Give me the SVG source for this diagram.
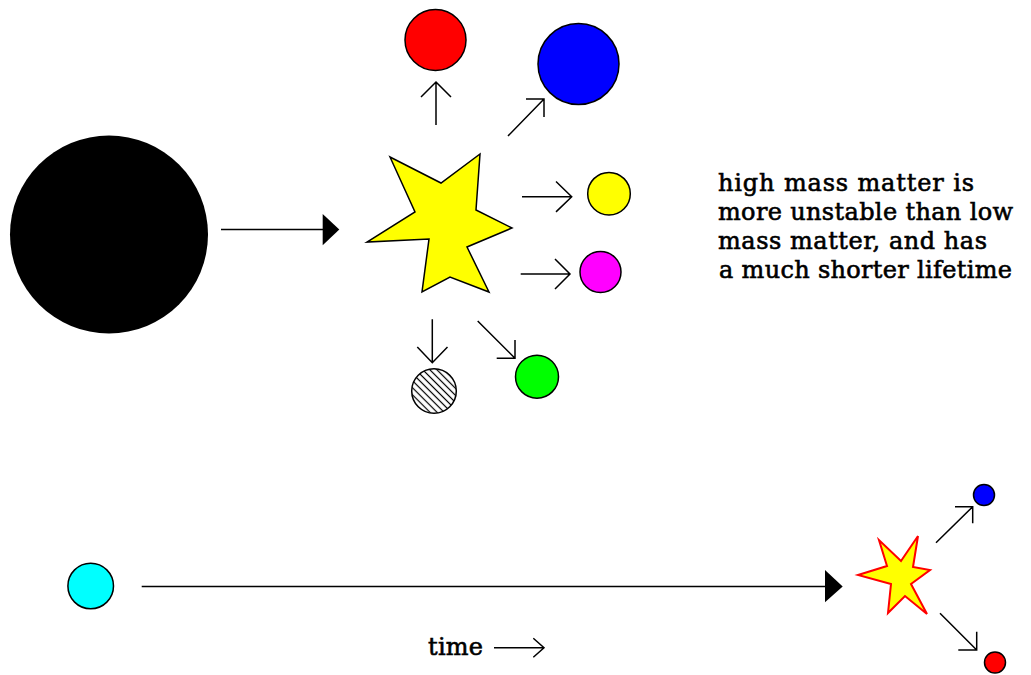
<svg xmlns="http://www.w3.org/2000/svg" width="1031" height="675" viewBox="0 0 1031 675">
<style>
.ball{stroke:#000;stroke-width:1.5}
.ln{stroke:#000;stroke-width:1.5;fill:none}
.head{fill:#000;stroke:none}
.txt{font-family:"DejaVu Serif","Liberation Serif",serif;font-size:24px;fill:#000;stroke:#000;stroke-width:0.6}
</style>
<defs>
<pattern id="hatch" patternUnits="userSpaceOnUse" width="5" height="5" patternTransform="rotate(45)">
<rect width="5" height="5" fill="#fff"/>
<line x1="0" y1="2.5" x2="5" y2="2.5" stroke="#000" stroke-width="1.2"/>
</pattern>
</defs>
<rect width="1031" height="675" fill="#fff"/>
<g id="black-mass"><circle cx="109" cy="234.5" r="99" fill="#000"/></g>
<g id="star-big"><polygon points="390,157 441,183 480,154 476,210 512,228 467,247 489,292 450,277 422,292 429,239 367,242 415,212" fill="#ffff00" stroke="#000" stroke-width="1.5" stroke-linejoin="miter"/></g>
<g id="red-big"><circle class="ball" cx="435.5" cy="40" r="30.5" fill="#ff0000"/></g>
<g id="blue-big"><circle class="ball" cx="578.5" cy="64" r="40.5" fill="#0000ff"/></g>
<g id="yellow-ball"><circle class="ball" cx="609" cy="193.7" r="21.3" fill="#ffff00"/></g>
<g id="magenta-ball"><circle class="ball" cx="600.5" cy="272" r="20.5" fill="#ff00ff"/></g>
<g id="hatched-ball"><circle class="ball" cx="434" cy="391" r="22.3" fill="url(#hatch)"/></g>
<g id="green-ball"><circle class="ball" cx="537" cy="376.7" r="21.5" fill="#00ff00"/></g>
<g id="cyan-ball"><circle class="ball" cx="90.7" cy="586" r="22.8" fill="#00ffff"/></g>
<g id="star-small"><polygon points="858,575 887,566 879,540 901,561 918,536 913,567 930,570 911,584 927,614 905,596 888,613 891,584" fill="#ffff00" stroke="#ff0000" stroke-width="2" stroke-linejoin="miter"/></g>
<g id="blue-small"><circle class="ball" cx="984" cy="495" r="10.5" fill="#0000ff"/></g>
<g id="red-small"><circle class="ball" cx="995" cy="662.5" r="10.5" fill="#ff0000"/></g>
<g id="text">
<text class="txt" x="718" y="191" textLength="256" lengthAdjust="spacing">high mass matter is</text>
<text class="txt" x="718" y="220" textLength="295" lengthAdjust="spacing">more unstable than low</text>
<text class="txt" x="718" y="249" textLength="269" lengthAdjust="spacing">mass matter, and has</text>
<text class="txt" x="719" y="278" textLength="293" lengthAdjust="spacing">a much shorter lifetime</text>
<text class="txt" x="428" y="655" textLength="55" lengthAdjust="spacing">time</text>
</g>
<g id="connectors">
<line class="ln" x1="221" y1="229.5" x2="324" y2="229.5"/>
<polygon class="head" points="322.7,214 339.3,229.5 322.7,245.3"/>
<line class="ln" x1="141.7" y1="586.5" x2="826" y2="586.5"/>
<polygon class="head" points="825,570 842.7,586.5 825,602.3"/>
<path class="ln" d="M436,125 V82 M421,97 L436,82 L451,97"/>
<path class="ln" d="M508,136 L544,99 M526,99 H544 V117"/>
<path class="ln" d="M522,196.7 H571.7 M556,181.5 L571.7,196.7 L556,211.9"/>
<path class="ln" d="M520.7,274 H570 M555,259 L570,274 L555,289"/>
<path class="ln" d="M432.3,319.3 V362.7 M417.3,347 L432.3,362.7 L447.5,347"/>
<path class="ln" d="M477.7,321 L515,358.3 M496.7,358.3 H515 V340"/>
<path class="ln" d="M936,542.7 L972.7,506.7 M955,506.7 H972.7 V523.3"/>
<path class="ln" d="M940,613.3 L976.7,650 M958.3,650 H976.7 V631.7"/>
<path class="ln" d="M494,647.7 H544 M533.3,638.3 L544,647.7 L533.3,657.3" stroke-width="1.2"/>
</g>
</svg>
